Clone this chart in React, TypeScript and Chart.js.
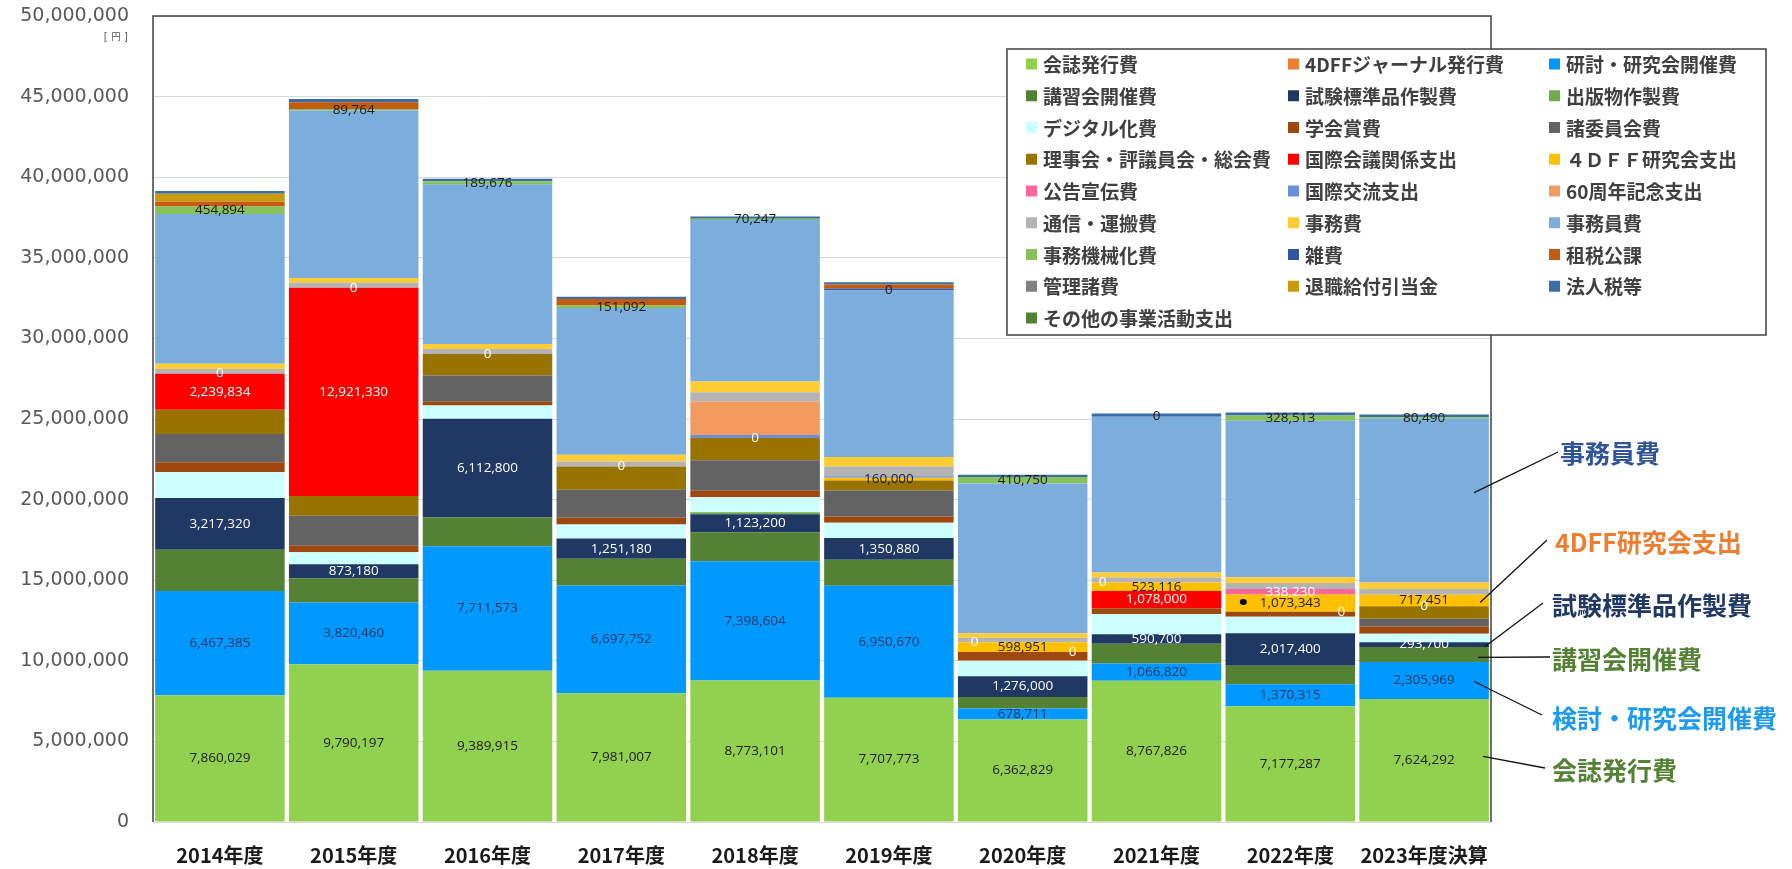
import React, { useEffect, useRef } from "react";
import { Chart, registerables } from "chart.js";
Chart.register(...registerables);

const years = ["2014年度", "2015年度", "2016年度", "2017年度", "2018年度", "2019年度", "2020年度", "2021年度", "2022年度", "2023年度決算"];

const kaishiHakkou = [7860029, 9790197, 9389915, 7981007, 8773101, 7707773, 6362829, 8767826, 7177287, 7624292];
const journal4dff = [0, 0, 0, 0, 0, 0, 0, 0, 0, 0];
const kentouKenkyukai = [6467385, 3820460, 7711573, 6697752, 7398604, 6950670, 678711, 1066820, 1370315, 2305969];
const koushukai = [2560000, 1510000, 1800000, 1650000, 1800000, 1610000, 720000, 1220000, 1140000, 930000];
const shikenHyoujun = [3217320, 873180, 6112800, 1251180, 1123200, 1350880, 1276000, 590700, 2017400, 293700];
const shuppanbutsu = [0, 0, 0, 0, 120000, 0, 0, 0, 0, 0];
const digital = [1610000, 740000, 820000, 870000, 930000, 950000, 970000, 1260000, 1030000, 520000];
const gakkaishou = [600000, 410000, 230000, 430000, 410000, 390000, 540000, 350000, 310000, 450000];
const shoiinkai = [1750000, 1860000, 1630000, 1730000, 1880000, 1610000, 0, 0, 0, 480000];
const rijikai = [1510000, 1220000, 1340000, 1450000, 1380000, 620000, 0, 0, 0, 780000];
const kokusaiKaigi = [2239834, 12921330, 0, 0, 0, 0, 0, 1078000, 0, 0];
const kenkyukai4dff = [0, 0, 0, 0, 0, 160000, 598951, 523116, 1073343, 717451];
const koukoku = [0, 0, 0, 0, 0, 0, 0, 0, 338230, 0];
const kokusaiKouryu = [0, 0, 0, 0, 200000, 100000, 0, 0, 0, 0];
const anniversary60 = [0, 0, 0, 0, 2070000, 0, 0, 0, 0, 0];
const tsushin = [290000, 310000, 310000, 310000, 580000, 600000, 290000, 310000, 370000, 350000];
const jimuhi = [330000, 290000, 310000, 410000, 660000, 600000, 270000, 310000, 350000, 410000];
const jimuinhi = [9290000, 10390000, 9910000, 9110000, 10020000, 10330000, 9290000, 9670000, 9710000, 10160000];
const jimuKikai = [454894, 89764, 189676, 151092, 70247, 0, 410750, 0, 328513, 80490];
const zappi = [0, 0, 0, 0, 0, 120000, 0, 0, 0, 0];
const sozei = [290000, 430000, 0, 410000, 0, 250000, 0, 0, 0, 0];
const kanriShohi = [0, 0, 0, 0, 0, 0, 0, 0, 0, 0];
const taishokuKyufu = [500000, 0, 0, 0, 0, 0, 0, 0, 0, 0];
const houjinzei = [170000, 200000, 150000, 140000, 150000, 140000, 140000, 190000, 190000, 170000];
const sonota = [0, 0, 0, 0, 0, 0, 0, 0, 0, 0];

const yMax = 50000000;
const yStep = 5000000;

const seriesList = [
  { name: "会誌発行費", data: kaishiHakkou, color: "#92D050" },
  { name: "4DFFジャーナル発行費", data: journal4dff, color: "#ED7D31" },
  { name: "研討・研究会開催費", data: kentouKenkyukai, color: "#0099FF" },
  { name: "講習会開催費", data: koushukai, color: "#548235" },
  { name: "試験標準品作製費", data: shikenHyoujun, color: "#203864" },
  { name: "出版物作製費", data: shuppanbutsu, color: "#70AD47" },
  { name: "デジタル化費", data: digital, color: "#CCFFFF" },
  { name: "学会賞費", data: gakkaishou, color: "#9E480E" },
  { name: "諸委員会費", data: shoiinkai, color: "#636363" },
  { name: "理事会・評議員会・総会費", data: rijikai, color: "#997300" },
  { name: "国際会議関係支出", data: kokusaiKaigi, color: "#FF0000" },
  { name: "４ＤＦＦ研究会支出", data: kenkyukai4dff, color: "#FFC000" },
  { name: "公告宣伝費", data: koukoku, color: "#FF6699" },
  { name: "国際交流支出", data: kokusaiKouryu, color: "#6A8FDB" },
  { name: "60周年記念支出", data: anniversary60, color: "#F39A5E" },
  { name: "通信・運搬費", data: tsushin, color: "#B4B4B4" },
  { name: "事務費", data: jimuhi, color: "#FFCC33" },
  { name: "事務員費", data: jimuinhi, color: "#7BADDD" },
  { name: "事務機械化費", data: jimuKikai, color: "#86C15A" },
  { name: "雑費", data: zappi, color: "#2F55A4" },
  { name: "租税公課", data: sozei, color: "#C55A11" },
  { name: "管理諸費", data: kanriShohi, color: "#808080" },
  { name: "退職給付引当金", data: taishokuKyufu, color: "#C99A0A" },
  { name: "法人税等", data: houjinzei, color: "#3A6EA5" },
  { name: "その他の事業活動支出", data: sonota, color: "#548235" },
];

const ALL = [0, 1, 2, 3, 4, 5, 6, 7, 8, 9];
const labelSpecs = [
  { series: "会誌発行費", color: "#1c1c1c", years: ALL, dx: {} as Record<number, number> },
  { series: "研討・研究会開催費", color: "#1F3864", years: ALL, dx: {} as Record<number, number> },
  { series: "試験標準品作製費", color: "#ffffff", years: ALL, dx: {} as Record<number, number> },
  { series: "国際会議関係支出", color: "#ffffff", years: [0, 1, 6, 7, 8, 9], dx: { 6: 50, 8: 51 } as Record<number, number> },
  { series: "４ＤＦＦ研究会支出", color: "#1c1c1c", years: [5, 6, 7, 8, 9], dx: {} as Record<number, number> },
  { series: "公告宣伝費", color: "#ffffff", years: [0, 1, 2, 3, 4, 6, 7, 8], dx: { 6: -48, 7: -54 } as Record<number, number> },
  { series: "事務機械化費", color: "#1c1c1c", years: ALL, dx: {} as Record<number, number> },
];

const annotations = [
  { text: "事務員費", color: "#2F5597", series: "事務員費", dx: 50, dy: -8, ex: 1558, ey: 452, tx: 1560, ty: 452 },
  { text: "4DFF研究会支出", color: "#ED7D31", series: "４ＤＦＦ研究会支出", dx: 56, dy: 2, ex: 1547, ey: 540, tx: 1555, ty: 541 },
  { text: "試験標準品作製費", color: "#203864", series: "試験標準品作製費", dx: 61, dy: 2, ex: 1543, ey: 603, tx: 1552, ty: 604 },
  { text: "講習会開催費", color: "#548235", series: "講習会開催費", dx: 54, dy: 3, ex: 1550, ey: 657, tx: 1552, ty: 658 },
  { text: "検討・研究会開催費", color: "#1E9BF0", series: "研討・研究会開催費", dx: 50, dy: 1, ex: 1542, ey: 715, tx: 1552, ty: 717 },
  { text: "会誌発行費", color: "#548235", series: "会誌発行費", dx: 59, dy: -4, ex: 1545, ey: 768, tx: 1552, ty: 769 },
];

const CJK = '"Noto Sans CJK JP", "Noto Sans", sans-serif';

function segCenter(chart: any, seriesName: string, i: number) {
  const di = seriesList.findIndex((s) => s.name === seriesName);
  const el = chart.getDatasetMeta(di).data[i];
  const p = el.getProps(["x", "y", "base"], true);
  return { x: p.x, y: (p.y + p.base) / 2 };
}

const overlayPlugin = {
  id: "overlay",
  afterDatasetsDraw(chart: any) {
    const ctx = chart.ctx;
    ctx.save();
    ctx.font = '13.5px "Open Sans", sans-serif';
    ctx.textAlign = "center";
    ctx.textBaseline = "middle";
    labelSpecs.forEach((spec) => {
      const di = seriesList.findIndex((s) => s.name === spec.series);
      spec.years.forEach((i) => {
        const c = segCenter(chart, spec.series, i);
        const v = seriesList[di].data[i];
        ctx.fillStyle = spec.color;
        ctx.fillText(v.toLocaleString("en-US"), c.x + (spec.dx[i] ?? 0), c.y);
      });
    });
    const d = segCenter(chart, "４ＤＦＦ研究会支出", 8);
    ctx.fillStyle = "#000";
    ctx.beginPath();
    ctx.ellipse(d.x - 47, d.y - 1, 3.5, 3, 0, 0, Math.PI * 2);
    ctx.fill();
    ctx.restore();
  },
  afterDraw(chart: any) {
    const ctx = chart.ctx;
    const a = chart.chartArea;
    ctx.save();
    ctx.strokeStyle = "#404040";
    ctx.lineWidth = 1.5;
    ctx.beginPath();
    ctx.moveTo(a.left, a.bottom);
    ctx.lineTo(a.left, a.top);
    ctx.lineTo(a.right, a.top);
    ctx.lineTo(a.right, a.bottom);
    ctx.stroke();

    ctx.fillStyle = "#595959";
    ctx.font = '10px "DejaVu Sans", sans-serif';
    ctx.textAlign = "right";
    ctx.textBaseline = "middle";
    ctx.fillText("[ 円 ]", 128, 37);

    const bx = 1007, by = 49, bw = 759, bh = 286;
    ctx.fillStyle = "#ffffff";
    ctx.fillRect(bx, by, bw, bh);
    ctx.strokeStyle = "#404040";
    ctx.lineWidth = 1.5;
    ctx.strokeRect(bx, by, bw, bh);
    const colX = [1026, 1288, 1549];
    ctx.font = "bold 19px " + CJK;
    ctx.textAlign = "left";
    ctx.textBaseline = "middle";
    seriesList.forEach((s, k) => {
      const r = Math.floor(k / 3);
      const c = k % 3;
      const y = 64 + r * 31.75;
      ctx.fillStyle = s.color;
      ctx.fillRect(colX[c], y - 5.5, 11, 11);
      ctx.fillStyle = "#404040";
      ctx.fillText(s.name, colX[c] + 17, y + 1);
    });

    ctx.font = "bold 25px " + CJK;
    annotations.forEach((an) => {
      const c = segCenter(chart, an.series, 9);
      ctx.strokeStyle = "#111";
      ctx.lineWidth = 1.3;
      ctx.beginPath();
      ctx.moveTo(c.x + an.dx, c.y + an.dy);
      ctx.lineTo(an.ex, an.ey);
      ctx.stroke();
      ctx.fillStyle = an.color;
      ctx.fillText(an.text, an.tx, an.ty + 1);
    });
    ctx.restore();
  },
};

export default function App() {
  const ref = useRef<HTMLCanvasElement | null>(null);
  useEffect(() => {
    document.body.style.margin = "0";
    const canvas = ref.current;
    if (!canvas) return;
    const chart = new Chart(canvas, {
      type: "bar",
      data: {
        labels: years,
        datasets: seriesList.map((s) => ({
          label: s.name,
          data: s.data,
          backgroundColor: s.color,
          borderWidth: 0,
          barPercentage: 0.968,
          categoryPercentage: 1,
        })),
      },
      options: {
        responsive: false,
        animation: false,
        devicePixelRatio: 1,
        layout: { padding: { top: 16, right: 301, left: 0, bottom: 0 } },
        plugins: { legend: { display: false }, tooltip: { enabled: false } },
        scales: {
          x: {
            stacked: true,
            grid: { display: false, drawTicks: false },
            border: { display: false },
            ticks: {
              padding: 21,
              color: "#1a1a1a",
              font: { family: CJK, size: 20, weight: "bold" },
            },
            afterFit: (s: any) => {
              s.height = 47;
              s.paddingLeft = 0;
              s.paddingRight = 0;
            },
          },
          y: {
            stacked: true,
            min: 0,
            max: yMax,
            grid: { color: "#D9D9D9", lineWidth: 1, drawTicks: false },
            border: { display: false },
            ticks: {
              stepSize: yStep,
              padding: 24,
              color: "#595959",
              font: { family: '"DejaVu Sans", sans-serif', size: 19 },
              callback: (v: any) => Number(v).toLocaleString("en-US"),
            },
            afterFit: (s: any) => {
              s.width = 153;
              s.paddingTop = 0;
              s.paddingBottom = 0;
            },
          },
        },
      },
      plugins: [overlayPlugin],
    });
    return () => chart.destroy();
  }, []);
  return (
    <div style={{ width: 1792, height: 869, position: "relative" }}>
      <canvas ref={ref} width={1792} height={869} style={{ width: 1792, height: 869, display: "block" }} />
    </div>
  );
}
